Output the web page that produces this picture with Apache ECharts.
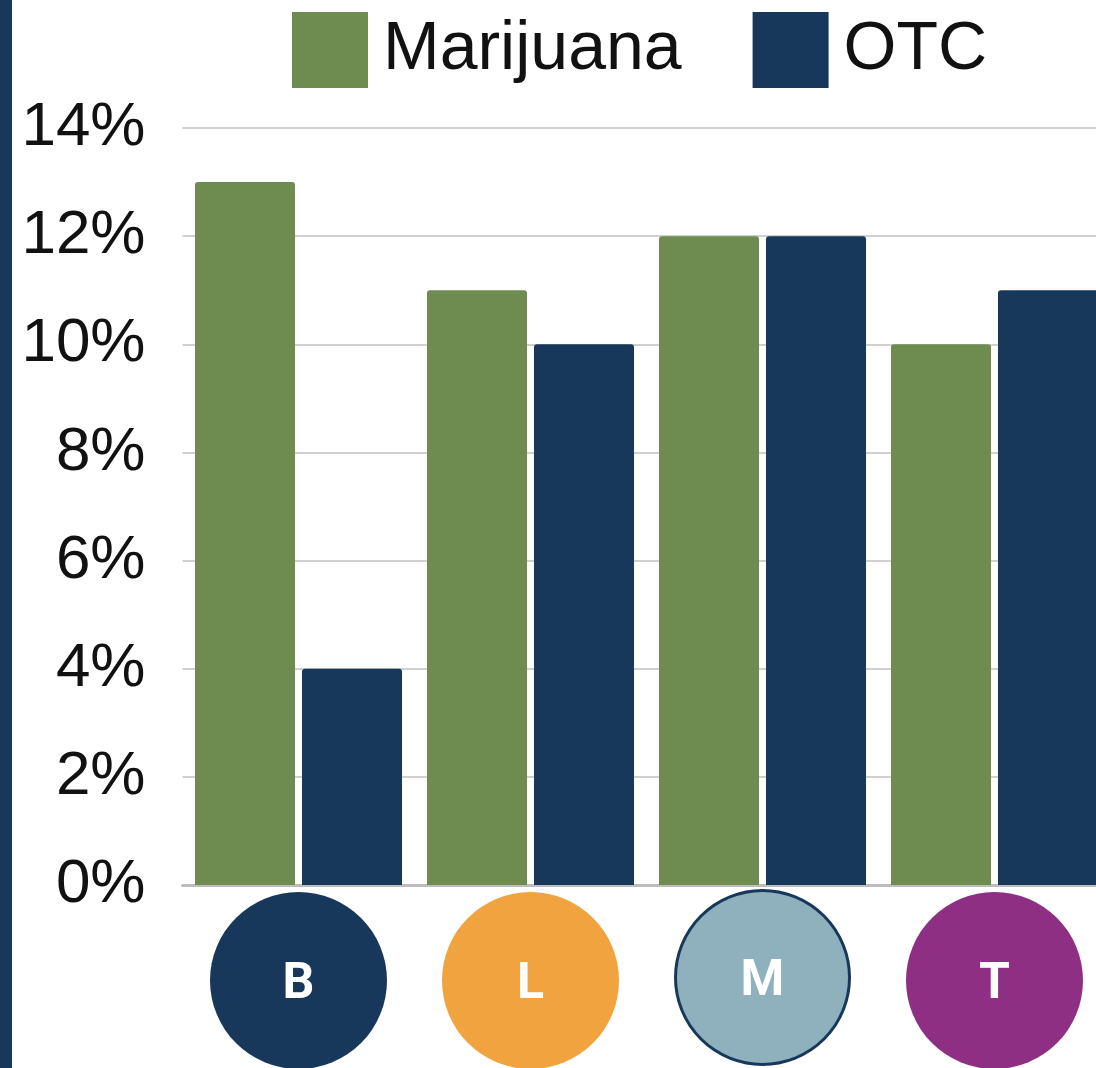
<!DOCTYPE html>
<html>
<head>
<meta charset="utf-8">
<title>Marijuana vs OTC</title>
<script src="https://cdn.jsdelivr.net/npm/echarts@6/dist/echarts.min.js"></script>
<style>
  html, body { margin: 0; padding: 0; background: #fff; }
  #chart { width: 1096px; height: 1068px; }
</style>
</head>
<body>
<div id="chart"></div>
<script>
// data
const categories = ['B', 'L', 'M', 'T'];
const marijuana = [13, 11, 12, 10];
const otc = [4, 10, 12, 11];
const yTicks = [0, 2, 4, 6, 8, 10, 12, 14];

const navy = '#17385a';
const green = '#6f8c50';

// circle badge style for each category label
const badge = (bg, border) => ({
  backgroundColor: bg,
  borderColor: border || bg,
  borderWidth: border ? 3 : 0,
  borderRadius: 90,
  width: border ? 171 : 177,
  height: border ? 161 : 167,
  lineHeight: border ? 161 : 167,
  padding: [10, 0, 0, 0],
  align: 'center',
  color: '#fff',
  fontSize: 50,
  fontWeight: 'bold',
  fontFamily: 'Roboto'
});

let chart = echarts.init(document.getElementById('chart'));

let option = {
  animation: false,
  backgroundColor: '#fff',
  graphic: [{
    type: 'rect',
    shape: { x: 0, y: 0, width: 12, height: 1068 },
    style: { fill: navy }
  }],
  legend: {
    data: ['Marijuana', 'OTC'],
    left: 292,
    top: 12,
    padding: 0,
    itemWidth: 76,
    itemHeight: 76,
    itemGap: 71,
    icon: 'rect',
    textStyle: {
      fontSize: 68,
      fontFamily: 'Liberation Sans',
      color: '#111',
      padding: [0, 0, 0, 10]
    }
  },
  grid: {
    left: 182.5,
    width: 928,
    top: 128,
    bottom: 183,
    outerBoundsMode: 'none'
  },
  xAxis: {
    type: 'category',
    data: categories,
    axisTick: { show: false },
    axisLine: { lineStyle: { color: '#bdbdbd', width: 3 } },
    axisLabel: {
      interval: 0,
      margin: 12,
      verticalAlign: 'top',
      formatter: v => '{' + v + '|' + v + '}',
      rich: {
        B: badge(navy),
        L: badge('#f0a33f'),
        M: badge('#8fb1bd', navy),
        T: badge('#8e2f84')
      }
    }
  },
  yAxis: {
    type: 'value',
    min: yTicks[0],
    max: yTicks[yTicks.length - 1],
    interval: 2,
    axisLine: { show: false },
    axisTick: { show: false },
    splitLine: { lineStyle: { color: '#d0d0d0', width: 2 } },
    axisLabel: {
      formatter: '{value}%',
      margin: 37,
      fontSize: 62,
      fontFamily: 'Liberation Sans',
      color: '#111'
    }
  },
  series: [
    {
      name: 'Marijuana',
      type: 'bar',
      data: marijuana,
      barWidth: 100,
      barGap: '7%',
      itemStyle: { color: green, borderRadius: [3, 3, 0, 0] }
    },
    {
      name: 'OTC',
      type: 'bar',
      data: otc,
      barWidth: 100,
      barGap: '7%',
      itemStyle: { color: navy, borderRadius: [3, 3, 0, 0] }
    }
  ]
};

chart.setOption(option);
</script>
</body>
</html>
